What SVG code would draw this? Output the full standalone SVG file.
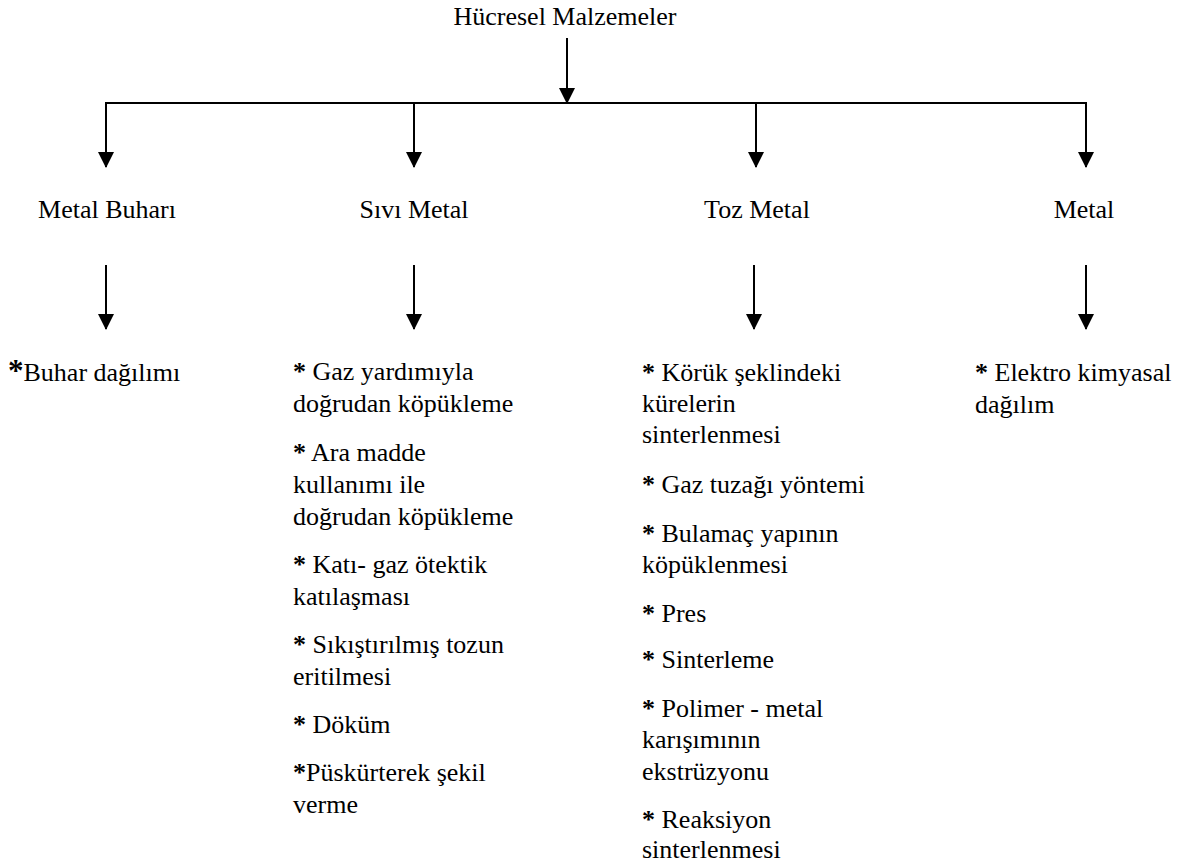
<svg xmlns="http://www.w3.org/2000/svg" width="1199" height="868" viewBox="0 0 1199 868">
<defs>
<style>
.t{font-family:'Liberation Serif','Times New Roman','DejaVu Serif',serif;font-size:26px;fill:#000}
.c{text-anchor:middle}
.b{font-weight:bold}
.ln{stroke:#000;stroke-width:2;fill:none}
.ah{fill:#000}
</style>
<marker id="arr" viewBox="0 0 16 16" refX="15" refY="8" markerWidth="16" markerHeight="16" markerUnits="userSpaceOnUse" orient="auto">
<path d="M0,0 L16,8 L0,16 Z" class="ah"/>
</marker>
</defs>
<rect width="1199" height="868" fill="#fff"/>
<g id="connectors">
<line class="ln" x1="567" y1="38" x2="567" y2="103" marker-end="url(#arr)"/>
<polyline class="ln" points="106,167 106,103 1086,103 1086,167" marker-end="url(#arr)"/>
<line class="ln" x1="106" y1="103" x2="106" y2="167" marker-end="url(#arr)"/>
<line class="ln" x1="414" y1="103" x2="414" y2="167" marker-end="url(#arr)"/>
<line class="ln" x1="756" y1="103" x2="756" y2="167" marker-end="url(#arr)"/>
<line class="ln" x1="106" y1="265" x2="106" y2="329" marker-end="url(#arr)"/>
<line class="ln" x1="414" y1="265" x2="414" y2="329" marker-end="url(#arr)"/>
<line class="ln" x1="754" y1="265" x2="754" y2="329" marker-end="url(#arr)"/>
<line class="ln" x1="1086" y1="265" x2="1086" y2="329" marker-end="url(#arr)"/>
</g>
<g class="t" font-family="Liberation Serif, Times New Roman, DejaVu Serif, serif" font-size="26">
<g id="root"><text class="c" x="565" y="25">Hücresel Malzemeler</text></g>
<g id="metal-buhari"><text class="c" x="107" y="218">Metal Buharı</text></g>
<g id="sivi-metal"><text class="c" x="414" y="218">Sıvı Metal</text></g>
<g id="toz-metal"><text class="c" x="757" y="218">Toz Metal</text></g>
<g id="metal"><text class="c" x="1084" y="218">Metal</text></g>
<g id="list-buhar">
<text x="8" y="381"><tspan class="b" font-size="31">*</tspan>Buhar dağılımı</text>
</g>
<g id="list-sivi">
<text x="293" y="380"><tspan class="b">*</tspan> Gaz yardımıyla</text>
<text x="293" y="412">doğrudan köpükleme</text>
<text x="293" y="461"><tspan class="b">*</tspan> Ara madde</text>
<text x="293" y="493">kullanımı ile</text>
<text x="293" y="525">doğrudan köpükleme</text>
<text x="293" y="573"><tspan class="b">*</tspan> Katı- gaz ötektik</text>
<text x="293" y="605">katılaşması</text>
<text x="293" y="653"><tspan class="b">*</tspan> Sıkıştırılmış tozun</text>
<text x="293" y="685">eritilmesi</text>
<text x="293" y="733"><tspan class="b">*</tspan> Döküm</text>
<text x="293" y="781"><tspan class="b">*</tspan>Püskürterek şekil</text>
<text x="293" y="813">verme</text>
</g>
<g id="list-toz">
<text x="642" y="381"><tspan class="b">*</tspan> Körük şeklindeki</text>
<text x="642" y="412">kürelerin</text>
<text x="642" y="443">sinterlenmesi</text>
<text x="642" y="493"><tspan class="b">*</tspan> Gaz tuzağı yöntemi</text>
<text x="642" y="542"><tspan class="b">*</tspan> Bulamaç yapının</text>
<text x="642" y="573">köpüklenmesi</text>
<text x="642" y="622"><tspan class="b">*</tspan> Pres</text>
<text x="642" y="668"><tspan class="b">*</tspan> Sinterleme</text>
<text x="642" y="717"><tspan class="b">*</tspan> Polimer - metal</text>
<text x="642" y="748">karışımının</text>
<text x="642" y="780">ekstrüzyonu</text>
<text x="642" y="828"><tspan class="b">*</tspan> Reaksiyon</text>
<text x="642" y="858">sinterlenmesi</text>
</g>
<g id="list-metal">
<text x="975" y="381"><tspan class="b">*</tspan> Elektro kimyasal</text>
<text x="975" y="413">dağılım</text>
</g>
</g>
</svg>
